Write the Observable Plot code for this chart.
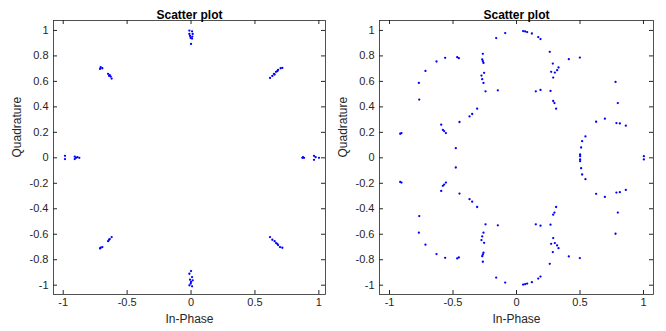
<!DOCTYPE html>
<html><head><meta charset="utf-8">
<script src="https://cdn.jsdelivr.net/npm/d3@7"></script>
<script src="https://cdn.jsdelivr.net/npm/@observablehq/plot@0.6"></script>
<style>
body{margin:0;background:#fff;}
#wrap{display:flex;width:666px;height:331px;}
svg{font-family:"Liberation Sans",Arial,sans-serif;}
</style></head><body><div id="wrap"></div>
<script>
const titleText = "Scatter plot";
const xLabelText = "In-Phase";
const yLabelText = "Quadrature";
const xTicks = [-1, -0.5, 0, 0.5, 1];
const xTickLabels = ["-1", "-0.5", "0", "0.5", "1"];
const yTicks = [-1, -0.8, -0.6, -0.4, -0.2, 0, 0.2, 0.4, 0.6, 0.8, 1];
const yTickLabels = ["-1", "-0.8", "-0.6", "-0.4", "-0.2", "0", "0.2", "0.4", "0.6", "0.8", "1"];

// Left panel: clustered 8-PSK points
const leftX = [
 -0.013,0.008,-0.013,0.013,-0.008,0.010,-0.003,0.008,0.000,
 0.618,0.636,0.649,0.665,0.681,0.701,0.714,0.654,0.675,
 -0.707,-0.694,-0.712,-0.649,-0.636,-0.628,-0.621,-0.641,
 -0.986,-0.986,-0.910,-0.900,-0.910,-0.874,-0.889,
 0.871,0.884,0.876,0.962,0.962,0.975,1.001,
 0.618,0.636,0.654,0.665,0.681,0.696,0.714,0.675,
 0.000,-0.013,0.008,-0.008,0.013,-0.003,-0.013,0.008,0.000,
 -0.707,-0.694,-0.712,-0.649,-0.636,-0.621,-0.641
];
const leftY = [
 0.999,0.993,0.973,0.973,0.957,0.952,0.941,0.936,0.894,
 0.627,0.643,0.659,0.675,0.690,0.703,0.706,0.654,0.680,
 0.711,0.703,0.698,0.659,0.648,0.638,0.622,0.643,
 0.016,-0.010,0.010,0.000,-0.010,0.000,0.005,
 0.000,0.000,0.005,0.016,-0.016,0.005,0.000,
 -0.622,-0.643,-0.654,-0.669,-0.685,-0.701,-0.706,-0.675,
 -0.889,-0.910,-0.936,-0.957,-0.962,-0.988,-1.001,-1.009,-0.975,
 -0.706,-0.701,-0.711,-0.654,-0.638,-0.622,-0.643
];

// Right panel: spread points
const rightX = [
 -0.160,-0.089,0.052,0.068,0.084,0.121,0.171,0.189,
 0.262,0.286,0.302,0.273,0.320,0.331,0.289,0.268,0.189,0.152,0.289,0.299,0.312,0.412,0.499,
 0.780,0.798,0.627,0.696,0.787,0.814,0.861,0.543,0.517,0.509,0.501,0.501,1.003,
 -0.769,-0.766,-0.717,-0.630,-0.562,-0.467,-0.454,
 -0.265,-0.270,-0.265,-0.260,-0.255,-0.276,-0.270,-0.260,-0.244,-0.147,
 -0.310,-0.349,-0.370,-0.449,-0.593,-0.580,-0.570,-0.556,-0.478,-0.906,-0.916,
 -0.160,-0.089,0.052,0.068,0.084,0.121,0.171,0.189,
 0.262,0.286,0.302,0.273,0.320,0.331,0.289,0.268,0.189,0.152,0.289,0.299,0.312,0.412,0.499,
 0.780,0.798,0.627,0.696,0.787,0.814,0.861,0.543,0.517,0.509,0.501,0.501,1.003,
 -0.769,-0.766,-0.717,-0.630,-0.562,-0.467,-0.454,
 -0.265,-0.270,-0.265,-0.260,-0.255,-0.276,-0.270,-0.260,-0.244,-0.147,
 -0.310,-0.349,-0.370,-0.449,-0.593,-0.580,-0.570,-0.556,-0.478,-0.906,-0.916
];
const rightY = [
 0.940,0.979,0.995,0.992,0.987,0.976,0.948,0.932,
 0.832,0.740,0.669,0.675,0.688,0.709,0.630,0.525,0.533,0.522,0.446,0.430,0.386,0.774,0.787,
 0.596,0.430,0.283,0.307,0.273,0.270,0.252,0.168,0.131,0.081,0.026,0.013,0.013,
 0.588,0.457,0.682,0.756,0.785,0.790,0.782,
 0.816,0.772,0.759,0.745,0.667,0.646,0.617,0.588,0.522,0.530,
 0.386,0.344,0.325,0.281,0.260,0.220,0.210,0.194,0.076,0.194,0.189,
 -0.940,-0.979,-0.995,-0.992,-0.987,-0.976,-0.948,-0.932,
 -0.832,-0.740,-0.669,-0.675,-0.688,-0.709,-0.630,-0.525,-0.533,-0.522,-0.446,-0.430,-0.386,-0.774,-0.787,
 -0.596,-0.430,-0.283,-0.307,-0.273,-0.270,-0.252,-0.168,-0.131,-0.081,-0.026,-0.013,-0.013,
 -0.588,-0.457,-0.682,-0.756,-0.785,-0.790,-0.782,
 -0.816,-0.772,-0.759,-0.745,-0.667,-0.646,-0.617,-0.588,-0.522,-0.530,
 -0.386,-0.344,-0.325,-0.281,-0.260,-0.220,-0.210,-0.194,-0.076,-0.194,-0.189
];

const axisColor = "#262626";
const fmt = (ticks, labels) => d => labels[ticks.indexOf(d)];

function panel(xs, ys, {ml, mr, xDomain, yDomain, ylabDx}) {
  const W = 333, H = 331, mt = 20, mb = 37;
  const iw = W - ml - mr, ih = H - mt - mb;
  const pts = xs.map((x, i) => ({x, y: ys[i]}));
  return Plot.plot({
    width: W, height: H,
    marginLeft: ml, marginRight: mr, marginTop: mt, marginBottom: mb,
    style: {fontSize: "11px", color: axisColor, background: "white", overflow: "visible"},
    x: {domain: xDomain, ticks: xTicks},
    y: {domain: yDomain, ticks: yTicks},
    marks: [
      Plot.frame({stroke: axisColor, strokeWidth: 0.8}),
      Plot.tickX(xTicks, {x: d => d, insetTop: ih - 4, stroke: axisColor}),
      Plot.tickX(xTicks, {x: d => d, insetBottom: ih - 4, stroke: axisColor}),
      Plot.tickY(yTicks, {y: d => d, insetRight: iw - 4, stroke: axisColor}),
      Plot.tickY(yTicks, {y: d => d, insetLeft: iw - 4, stroke: axisColor}),
      Plot.axisX({ticks: xTicks, tickSize: 0, tickPadding: 4, tickFormat: fmt(xTicks, xTickLabels), label: null, fill: axisColor}),
      Plot.axisY({ticks: yTicks, tickSize: 0, tickPadding: 5, tickFormat: fmt(yTicks, yTickLabels), label: null, fill: axisColor}),
      Plot.dot(pts, {x: "x", y: "y", r: 1.15, fill: "#0000ff", stroke: null}),
      Plot.text([titleText], {frameAnchor: "top", dy: -10, fontWeight: "bold", fontSize: 12, fill: "#000"}),
      Plot.text([xLabelText], {frameAnchor: "bottom", dy: 28, fontSize: 12, fill: axisColor}),
      Plot.text([yLabelText], {frameAnchor: "left", dx: ylabDx, rotate: -90, fontSize: 12, fill: axisColor})
    ]
  });
}

const wrap = document.getElementById("wrap");
wrap.appendChild(panel(leftX, leftY, {ml: 53, mr: 8, xDomain: [-1.076, 1.052], yDomain: [-1.073, 1.078], ylabDx: -36}));
wrap.appendChild(panel(rightX, rightY, {ml: 46, mr: 13, xDomain: [-1.079, 1.079], yDomain: [-1.073, 1.078], ylabDx: -36}));
</script></body></html>
